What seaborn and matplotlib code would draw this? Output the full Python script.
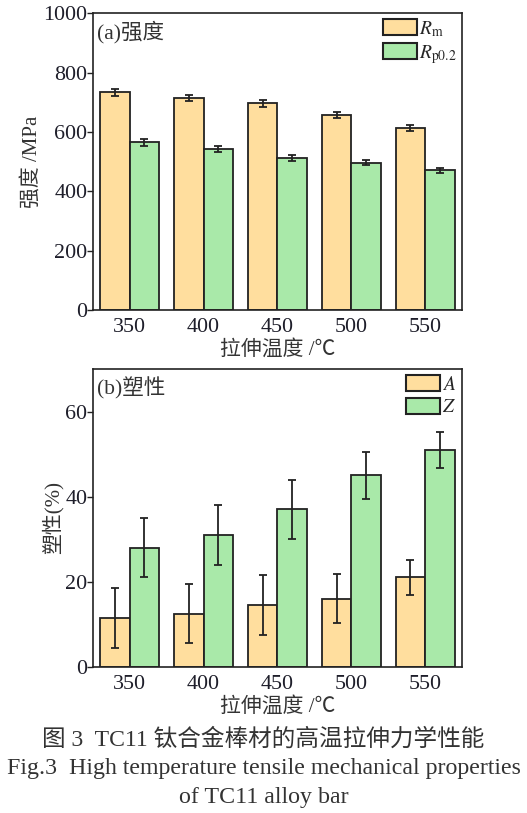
import numpy as np
import pandas as pd
import matplotlib
matplotlib.use('Agg')
import matplotlib.pyplot as plt
from matplotlib.patches import Patch
import seaborn as sns

# Data
temps = ['350', '400', '450', '500', '550']
rm_vals = [733, 714, 696, 657, 612]
rm_err = [11, 11, 11, 10, 10]
rp_vals = [565, 542, 512, 496, 471]
rp_err = [11, 10, 10, 9, 9]
a_vals = [11.5, 12.5, 14.5, 16.0, 21.0]
a_err = [7.0, 7.0, 7.0, 5.8, 4.2]
z_vals = [28.0, 31.0, 37.0, 45.0, 51.0]
z_err = [7.0, 7.0, 7.0, 5.6, 4.2]

ORANGE = '#FFDE9E'
GREEN = '#A9E9A9'
EDGE = '#222222'
TEXT = '#1e1e2a'
LABEL = '#333333'
FONT = ['Liberation Serif', 'Noto Sans CJK SC']

sns.set_theme(style='ticks')
plt.rcParams['font.family'] = FONT
plt.rcParams['mathtext.fontset'] = 'stix'


def draw_panel(ax, v1, e1, v2, e2, names, ylim, yticks, tag, ylabel, ylx):
    df = pd.DataFrame({
        'temp': temps * 2,
        'value': list(v1) + list(v2),
        'series': [names[0]] * len(temps) + [names[1]] * len(temps),
    })
    sns.barplot(data=df, x='temp', y='value', hue='series', order=temps,
                hue_order=names, palette=[ORANGE, GREEN], saturation=1, width=0.8,
                edgecolor=EDGE, linewidth=1.3, errorbar=None, legend=False, ax=ax)
    for cont, vals, errs in zip(ax.containers, [v1, v2], [e1, e2]):
        xs = [b.get_x() + b.get_width() / 2 for b in cont]
        ax.errorbar(xs, vals, yerr=errs, fmt='none', ecolor=EDGE,
                    elinewidth=1.3, capsize=3, capthick=1.3)

    ax.set_xlim(-0.5, 4.5)
    ax.set_ylim(*ylim)
    ax.set_yticks(yticks)
    ax.tick_params(axis='y', length=4, width=1, colors=EDGE, labelcolor=TEXT, labelsize=15.8, pad=0)
    ax.tick_params(axis='x', length=0, labelcolor=TEXT, labelsize=15.8, pad=6)
    for s in ax.spines.values():
        s.set_visible(True)
        s.set_color(EDGE)
        s.set_linewidth(1.2)
    ax.set_xlabel('拉伸温度 /℃', fontsize=15, color=LABEL, labelpad=2)
    ax.set_ylabel(ylabel, fontsize=15, color=LABEL)
    ax.yaxis.set_label_coords(ylx, 0.5)
    ax.text(0.012, 0.975, tag, transform=ax.transAxes, ha='left', va='top',
            fontsize=15.5, color=LABEL)

    handles = [Patch(facecolor=ORANGE, edgecolor=EDGE, linewidth=1.5),
               Patch(facecolor=GREEN, edgecolor=EDGE, linewidth=1.5)]
    ax.legend(handles, names, loc='upper right', frameon=False, fontsize=14,
              handlelength=1.75, handleheight=0.88, handletextpad=0.1,
              labelspacing=0.2, borderaxespad=0.1, borderpad=0.2)


fig = plt.figure(figsize=(5.27, 8.13), dpi=100)
ax1 = fig.add_axes([0.176, 0.6187, 0.701, 0.365])
ax2 = fig.add_axes([0.176, 0.18, 0.701, 0.3658])

draw_panel(ax1, rm_vals, rm_err, rp_vals, rp_err,
           [r'$R_\mathrm{m}$', r'$R_\mathrm{p0.2}$'],
           (0, 1000), [0, 200, 400, 600, 800, 1000], '(a)强度', '强度 /MPa', -0.137)
draw_panel(ax2, a_vals, a_err, z_vals, z_err,
           [r'$A$', r'$Z$'],
           (0, 70), [0, 20, 40, 60], '(b)塑性', '塑性(%)', -0.08)

fig.text(0.5, 0.0905, '图 3  TC11 钛合金棒材的高温拉伸力学性能', ha='center', va='center',
         fontsize=17, color=LABEL)
fig.text(0.5, 0.0545, 'Fig.3  High temperature tensile mechanical properties', ha='center',
         va='center', fontsize=17.2, color=LABEL)
fig.text(0.5, 0.0185, 'of TC11 alloy bar', ha='center', va='center',
         fontsize=17.2, color=LABEL)

fig.savefig('out.png', dpi=100, facecolor='white')
